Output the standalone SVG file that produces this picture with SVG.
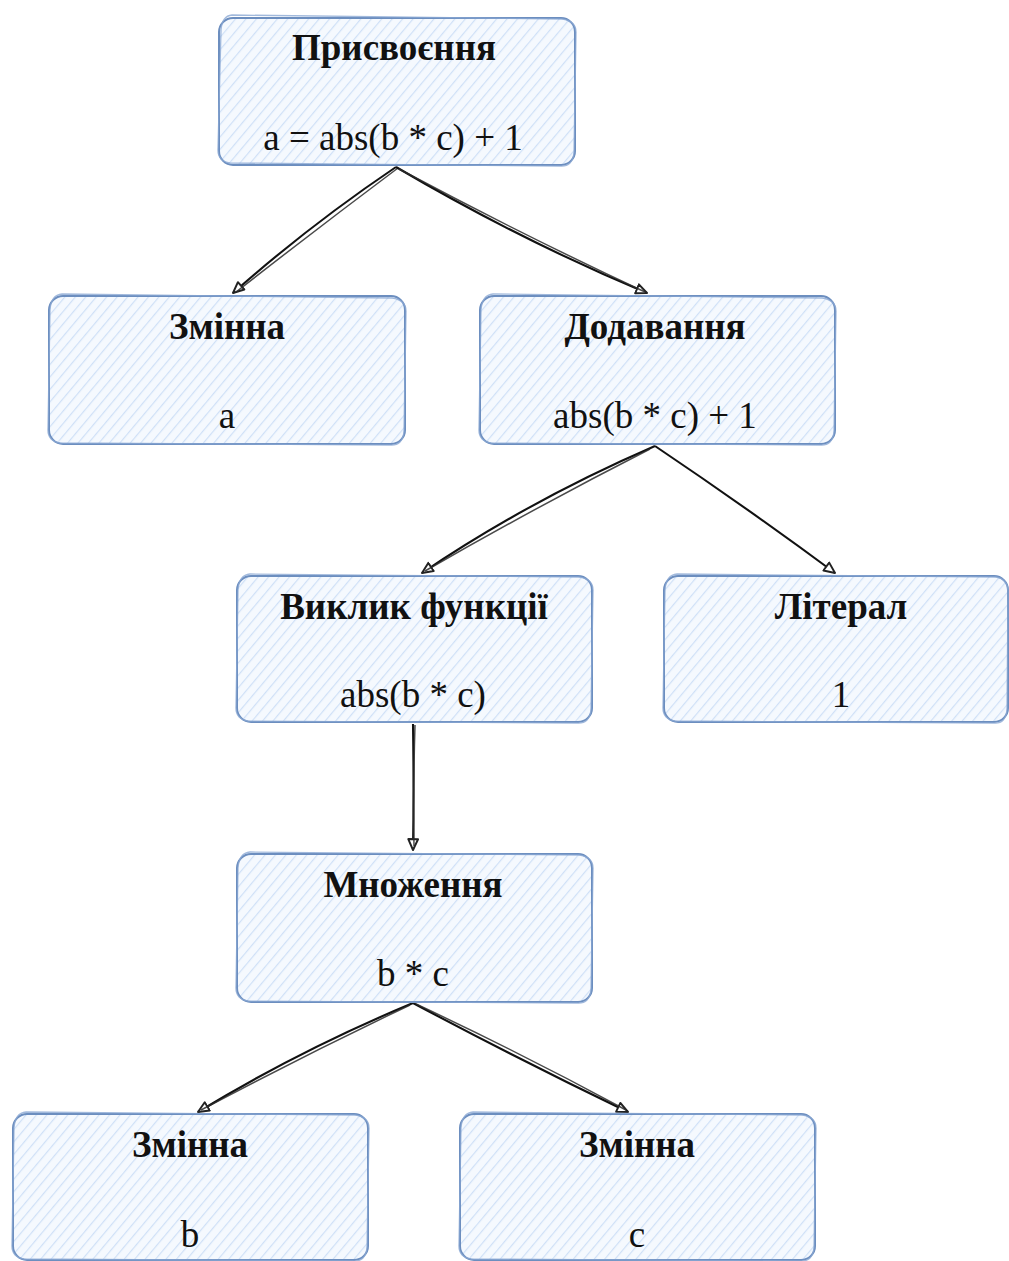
<svg xmlns="http://www.w3.org/2000/svg" width="1009" height="1261" viewBox="0 0 1009 1261">
  <defs>
    <pattern id="hatch" patternUnits="userSpaceOnUse" width="8" height="8" patternTransform="rotate(40)">
      <rect width="8" height="8" fill="#f5f9fe"/>
      <line x1="0" y1="0" x2="0" y2="8" stroke="#cfe0f7" stroke-width="2.4"/>
    </pattern>
    <marker id="tri" viewBox="0 0 12 12" refX="11" refY="6" markerWidth="13" markerHeight="13" markerUnits="userSpaceOnUse" orient="auto">
      <path d="M1,1.5 L11,6 L1,10.5 Z" fill="#fff" stroke="#222" stroke-width="1.8" stroke-linejoin="round"/>
    </marker>
  </defs>
  <style>
    .box { fill: url(#hatch); stroke: none; }
    .edge1 { fill: none; stroke: #6c8ebf; stroke-width: 2; }
    .edge2 { fill: none; stroke: #8aa8d3; stroke-width: 1.3; opacity: 0.8; }
    .title { font-family: "Liberation Serif", "Times New Roman", serif; font-weight: bold; font-size: 37px; fill: #111; text-anchor: middle; }
    .body { font-family: "Liberation Serif", "Times New Roman", serif; font-size: 37px; fill: #111; text-anchor: middle; }
    .wire { fill: none; stroke: #111; stroke-width: 2.1; }
    .wire2 { fill: none; stroke: #2a2a2a; stroke-width: 1.5; opacity: 0.85; }
  </style>

  <rect width="1009" height="1261" fill="#ffffff"/>

  <!-- connectors -->
  <g id="connectors">
    <path class="wire" d="M396,167 Q310,225 233,293" marker-end="url(#tri)"/>
    <path class="wire2" d="M398,168 Q318,228 236,292"/>
    <path class="wire" d="M396,167 Q520,240 647,293" marker-end="url(#tri)"/>
    <path class="wire2" d="M399,169 Q525,236 645,292"/>

    <path class="wire" d="M655,446 Q530,500 422,573" marker-end="url(#tri)"/>
    <path class="wire2" d="M650,449 Q540,505 425,571"/>
    <path class="wire" d="M655,446 Q750,510 835,573" marker-end="url(#tri)"/>

    <path class="wire" d="M413,724 Q414,790 413,850" marker-end="url(#tri)"/>
    <path class="wire2" d="M415,725 Q413,790 414,846"/>

    <path class="wire" d="M413,1003 Q300,1050 198,1112" marker-end="url(#tri)"/>
    <path class="wire2" d="M410,1005 Q305,1055 201,1110"/>
    <path class="wire" d="M413,1003 Q520,1060 628,1112" marker-end="url(#tri)"/>
    <path class="wire2" d="M416,1004 Q525,1055 626,1110"/>
  </g>

  <!-- Присвоєння -->
  <g id="node-assign">
    <rect class="box" x="219" y="18" width="356" height="147" rx="14"/>
    <rect class="edge1" x="219" y="18" width="356" height="147" rx="14"/>
    <path class="edge2" d="M232,15 L562,19 Q577,21 576,34 L574,152 Q573,167 560,166 L230,163 Q217,161 218,148 L221,30 Q222,16 232,15 Z"/>
    <text class="title" x="394" y="60">Присвоєння</text>
    <text class="body" x="393" y="150">a = abs(b * c) + 1</text>
  </g>

  <!-- Змінна a -->
  <g id="node-var-a">
    <rect class="box" x="49" y="296" width="356" height="148" rx="14"/>
    <rect class="edge1" x="49" y="296" width="356" height="148" rx="14"/>
    <path class="edge2" d="M62,294 L392,298 Q407,300 406,313 L404,431 Q403,446 390,445 L60,443 Q47,441 48,428 L50,310 Q51,295 62,294 Z"/>
    <text class="title" x="227" y="339">Змінна</text>
    <text class="body" x="227" y="428">a</text>
  </g>

  <!-- Додавання -->
  <g id="node-add">
    <rect class="box" x="480" y="296" width="355" height="148" rx="14"/>
    <rect class="edge1" x="480" y="296" width="355" height="148" rx="14"/>
    <path class="edge2" d="M493,294 L822,298 Q837,300 836,313 L834,431 Q833,446 820,445 L491,443 Q478,441 479,428 L481,310 Q482,295 493,294 Z"/>
    <text class="title" x="655" y="339">Додавання</text>
    <text class="body" x="655" y="428">abs(b * c) + 1</text>
  </g>

  <!-- Виклик функції -->
  <g id="node-call">
    <rect class="box" x="237" y="576" width="355" height="146" rx="14"/>
    <rect class="edge1" x="237" y="576" width="355" height="146" rx="14"/>
    <path class="edge2" d="M250,574 L579,577 Q594,579 593,592 L591,709 Q590,724 577,723 L248,721 Q235,719 236,706 L238,590 Q239,575 250,574 Z"/>
    <text class="title" x="414" y="619">Виклик функції</text>
    <text class="body" x="413" y="707">abs(b * c)</text>
  </g>

  <!-- Літерал -->
  <g id="node-literal">
    <rect class="box" x="664" y="576" width="344" height="146" rx="14"/>
    <rect class="edge1" x="664" y="576" width="344" height="146" rx="14"/>
    <path class="edge2" d="M677,574 L996,577 Q1008,579 1008,592 L1007,709 Q1006,724 994,723 L675,721 Q662,719 663,706 L665,590 Q666,575 677,574 Z"/>
    <text class="title" x="841" y="619">Літерал</text>
    <text class="body" x="841" y="707">1</text>
  </g>

  <!-- Множення -->
  <g id="node-mul">
    <rect class="box" x="237" y="854" width="355" height="148" rx="14"/>
    <rect class="edge1" x="237" y="854" width="355" height="148" rx="14"/>
    <path class="edge2" d="M250,852 L579,855 Q594,857 593,870 L591,989 Q590,1004 577,1003 L248,1001 Q235,999 236,986 L238,868 Q239,853 250,852 Z"/>
    <text class="title" x="413" y="897">Множення</text>
    <text class="body" x="413" y="986">b * c</text>
  </g>

  <!-- Змінна b -->
  <g id="node-var-b">
    <rect class="box" x="13" y="1114" width="355" height="146" rx="14"/>
    <rect class="edge1" x="13" y="1114" width="355" height="146" rx="14"/>
    <path class="edge2" d="M26,1112 L355,1115 Q370,1117 369,1130 L367,1247 Q366,1262 353,1261 L24,1259 Q11,1257 12,1244 L14,1128 Q15,1113 26,1112 Z"/>
    <text class="title" x="190" y="1157">Змінна</text>
    <text class="body" x="190" y="1247">b</text>
  </g>

  <!-- Змінна c -->
  <g id="node-var-c">
    <rect class="box" x="460" y="1114" width="355" height="146" rx="14"/>
    <rect class="edge1" x="460" y="1114" width="355" height="146" rx="14"/>
    <path class="edge2" d="M473,1112 L802,1115 Q817,1117 816,1130 L814,1247 Q813,1262 800,1261 L471,1259 Q458,1257 459,1244 L461,1128 Q462,1113 473,1112 Z"/>
    <text class="title" x="637" y="1157">Змінна</text>
    <text class="body" x="637" y="1247">c</text>
  </g>
</svg>
